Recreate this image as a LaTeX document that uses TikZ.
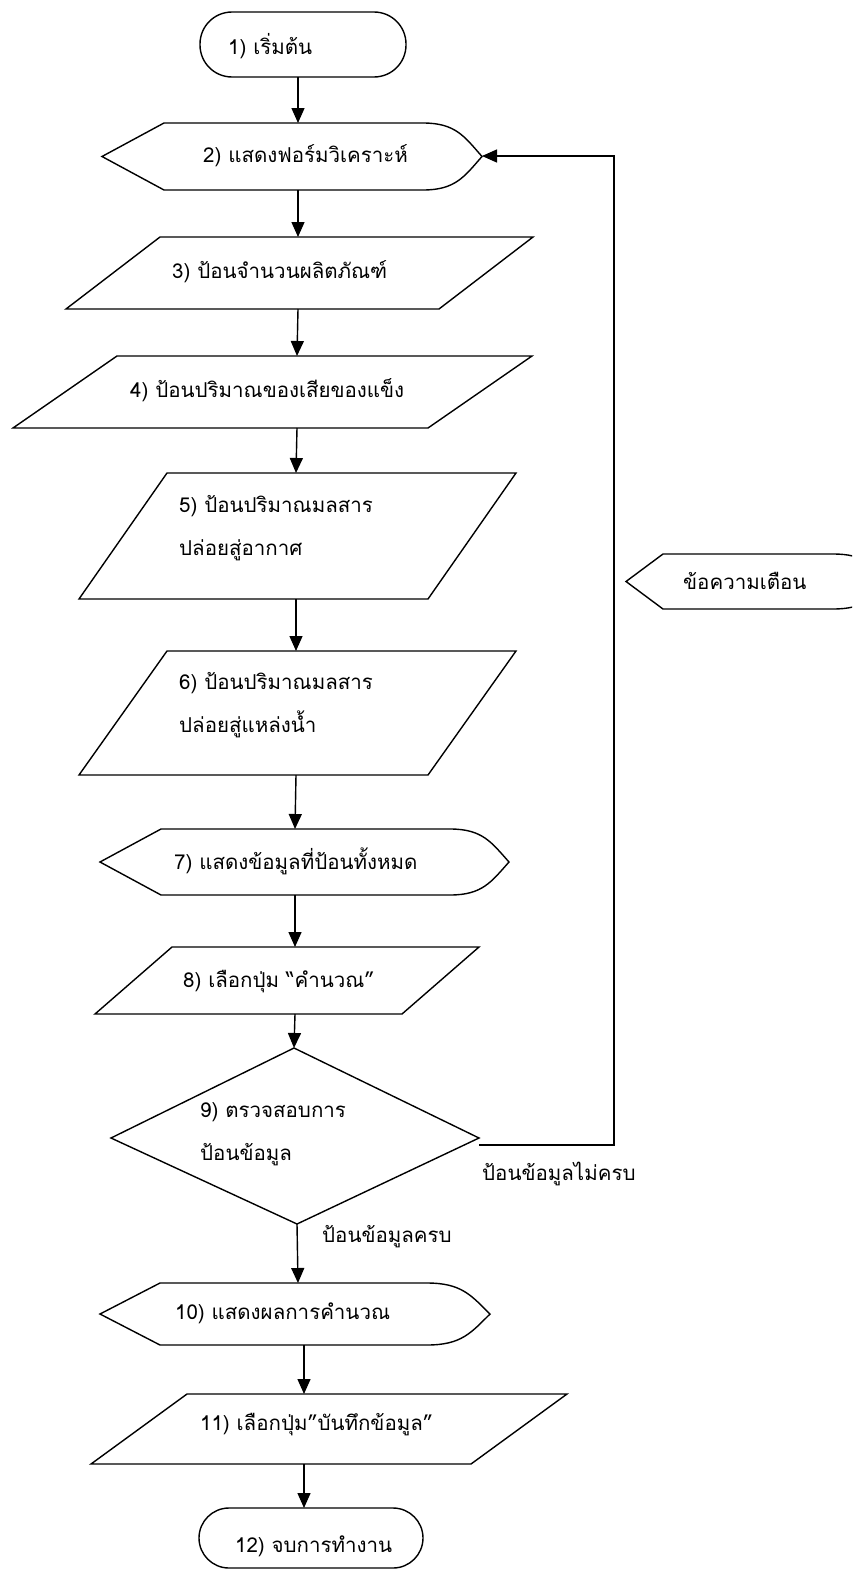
\documentclass[tikz,border=0pt]{standalone}
\usepackage{fontspec}
\newfontfamily\thaifont[Script=Thai]{Loma}
\usetikzlibrary{arrows.meta}

% display symbol: #1 left tip x, #2 corner x, #3 arc start x, #4 right tip x, #5 top y, #6 bottom y
\newcommand\dispshape[6]{%
  \pgfmathsetmacro\dspmid{(#5+#6)/2}%
  \pgfmathsetmacro\dspw{#4-#3}%
  \pgfmathsetmacro\dsph{(#6-#5)/2}%
  \draw[outline] (#2,#5) -- (#3,#5)
    .. controls ({#3+0.55*\dspw},#5) and ({#4-0.3*\dspw},{\dspmid-0.6*\dsph}) .. (#4,\dspmid)
    .. controls ({#4-0.3*\dspw},{\dspmid+0.6*\dsph}) and ({#3+0.55*\dspw},#6) .. (#3,#6)
    -- (#2,#6) -- (#1,\dspmid) -- cycle;
}
% input/output parallelogram: #1 top y, #2 bottom y, #3 top-left x, #4 top-right x, #5 slant offset
\newcommand\ioshape[5]{%
  \draw[outline] (#3,#1) -- (#4,#1) -- ({#4-#5},#2) -- ({#3-#5},#2) -- cycle;
}

\begin{document}
\begin{tikzpicture}[x=1pt,y=-1pt,
  outline/.style={draw=black,line width=1.4pt,line join=miter},
  arr/.style={draw=black,line width=1.4pt,-{Triangle[length=15pt,width=13pt]}},
  lbl/.style={font=\thaifont\fontsize{20.5}{43}\selectfont,anchor=west,inner sep=0pt,align=left},
]
\useasboundingbox (0,0) rectangle (852,1571);
\clip (0,0) rectangle (852,1571);

% 1) start
\draw[outline,rounded corners=32pt] (200,12) rectangle (406,77);
\node[lbl] (t1) at (228,46) {1) เริ่มต้น};
\coordinate (s1) at (298,77);

% 2) display form
\dispshape{102}{164}{423}{482}{123}{190}
\node[lbl] (t2) at (203,156) {2) แสดงฟอร์มวิเคราะห์};
\coordinate (n2) at (298,123);
\coordinate (s2) at (298,190);
\coordinate (e2) at (482,156);

% 3) product count
\ioshape{237}{309}{160}{533}{94}
\node[lbl] (t3) at (172,272) {3) ป้อนจำนวนผลิตภัณฑ์};
\coordinate (n3) at (298,237);
\coordinate (s3) at (298,309);

% 4) solid waste
\ioshape{356}{428}{117}{532}{104}
\node[lbl] (t4) at (130,390) {4) ป้อนปริมาณของเสียของแข็ง};
\coordinate (n4) at (297,356);
\coordinate (s4) at (297,428);

% 5) emissions to air
\ioshape{473}{599}{167}{516}{88}
\node[lbl] (t5) at (179,528) {5) ป้อนปริมาณมลสาร\\ปล่อยสู่อากาศ};
\coordinate (n5) at (296,473);
\coordinate (s5) at (296,599);

% 6) emissions to water
\ioshape{651}{775}{167}{516}{88}
\node[lbl] (t6) at (179,705) {6) ป้อนปริมาณมลสาร\\ปล่อยสู่แหล่งน้ำ};
\coordinate (n6) at (296,651);
\coordinate (s6) at (296,775);

% 7) show all entered data
\dispshape{100}{161}{450}{509}{829}{895}
\node[lbl] (t7) at (174,861) {7) แสดงข้อมูลที่ป้อนทั้งหมด};
\coordinate (n7) at (295,829);
\coordinate (s7) at (295,895);

% 8) calculate button
\ioshape{947}{1014}{172}{479}{77}
\node[lbl] (t8) at (183,982) {8) เลือกปุ่ม “คำนวณ”};
\coordinate (n8) at (295,947);
\coordinate (s8) at (295,1014);

% 9) check input
\draw[outline] (294,1048) -- (479,1138) -- (297,1224) -- (111,1138) -- cycle;
\node[lbl] (t9) at (200,1134) {9) ตรวจสอบการ\\ป้อนข้อมูล};
\coordinate (n9) at (294,1048);
\coordinate (s9) at (297,1224);
\coordinate (e9) at (479,1145);
\coordinate (lpb) at (614,1145);
\coordinate (lpt) at (614,156);

% 10) show result
\dispshape{100}{160}{427}{490}{1283}{1345}
\node[lbl] (t10) at (175,1313) {10) แสดงผลการคำนวณ};
\coordinate (n10) at (298,1283);
\coordinate (s10) at (304,1345);

% 11) save button
\ioshape{1394}{1464}{187}{567}{96}
\node[lbl] (t11) at (200,1425) {11) เลือกปุ่ม”บันทึกข้อมูล”};
\coordinate (n11) at (304,1394);
\coordinate (s11) at (304,1464);

% 12) end
\draw[outline,rounded corners=30pt] (199,1508) rectangle (423,1568);
\node[lbl] (t12) at (235,1546) {12) จบการทำงาน};
\coordinate (n12) at (304,1508);

% warning message
\dispshape{626}{663}{833}{890}{554}{609}
\node[lbl] (tw) at (683,581) {ข้อความเตือน};

% branch labels
\node[lbl] (lno) at (482,1174) {ป้อนข้อมูลไม่ครบ};
\node[lbl] (lyes) at (322,1237) {ป้อนข้อมูลครบ};

% main flow
\draw[arr] (s1) -- (n2);
\draw[arr] (s2) -- (n3);
\draw[arr] (s3) -- (n4);
\draw[arr] (s4) -- (n5);
\draw[arr] (s5) -- (n6);
\draw[arr] (s6) -- (n7);
\draw[arr] (s7) -- (n8);
\draw[arr] (s8) -- (n9);
\draw[arr] (s9) -- (n10);
\draw[arr] (s10) -- (n11);
\draw[arr] (s11) -- (n12);

% loop back on incomplete input
\draw[arr] (e9) -- (lpb) -- (lpt) -- (e2);
\end{tikzpicture}
\end{document}
